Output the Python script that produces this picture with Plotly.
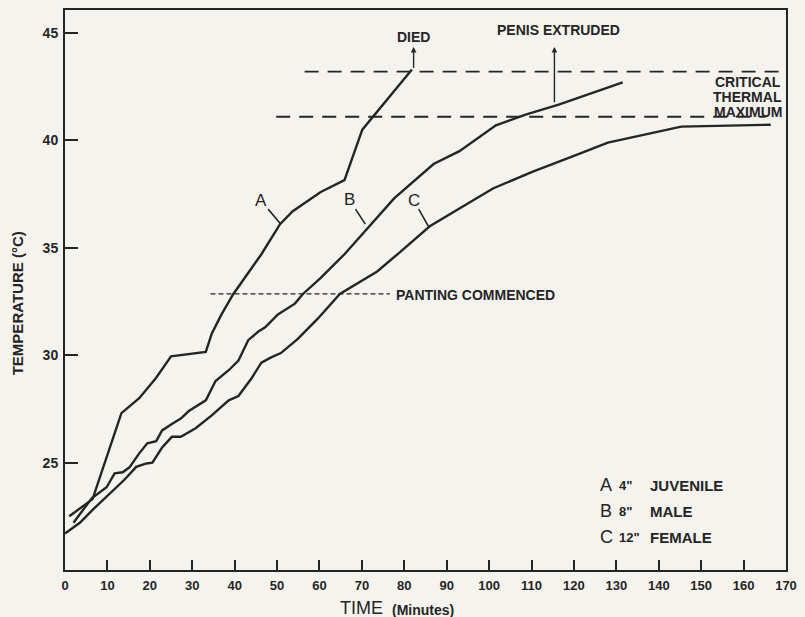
import plotly.graph_objects as go

# ---- data ----
a_time = [1.0, 6.5, 13.3, 17.5, 21.5, 25.0, 33.2, 34.6, 36.9, 39.7, 46.3, 50.7, 53.7, 60.3, 65.9, 70.1, 81.8]
a_temp = [22.5, 23.3, 27.3, 28.0, 28.95, 29.95, 30.15, 31.0, 31.9, 32.85, 34.7, 36.1, 36.7, 37.6, 38.15, 40.5, 43.3]

b_time = [2.0, 6.3, 9.8, 11.7, 13.6, 15.2, 17.5, 19.4, 21.5, 22.9, 25.2, 27.3, 29.2, 33.2, 35.5, 38.6, 40.9,
          43.2, 45.6, 47.2, 50.2, 54.2, 56.1, 60.3, 65.9, 71.3, 77.6, 86.9, 93.0, 101.6, 108.6, 116.4, 131.5]
b_temp = [22.2, 23.34, 23.85, 24.5, 24.55, 24.78, 25.43, 25.9, 26.0, 26.5, 26.8, 27.05, 27.4, 27.9, 28.8, 29.3, 29.75,
          30.7, 31.1, 31.3, 31.9, 32.4, 32.85, 33.6, 34.7, 35.9, 37.3, 38.9, 39.5, 40.7, 41.2, 41.66, 42.7]

c_time = [0, 3.5, 6.5, 11.2, 14.0, 16.8, 19.2, 20.6, 22.9, 25.2, 27.3, 30.8, 34.6, 38.6, 40.9, 43.9, 46.3, 48.6,
          50.9, 54.9, 59.6, 64.8, 73.6, 79.0, 86.0, 100.9, 110.3, 120.3, 128.0, 145.3, 166.4]
c_temp = [21.7, 22.2, 22.8, 23.7, 24.2, 24.8, 24.96, 25.0, 25.7, 26.2, 26.2, 26.6, 27.2, 27.9, 28.1, 28.9, 29.65, 29.9,
          30.1, 30.76, 31.7, 32.85, 33.9, 34.8, 36.0, 37.76, 38.55, 39.3, 39.9, 40.64, 40.73]

# reference levels
died_level_time = [56.5, 169.4]
died_level_temp = [43.2, 43.2]
ctm_time = [49.8, 165.2]
ctm_temp = [41.1, 41.1]
panting_time = [34.3, 76.6]
panting_temp = [32.85, 32.85]

x_ticks = list(range(0, 171, 10))
x_tick_labels = [str(v) for v in x_ticks]
y_ticks = [25, 30, 35, 40, 45]
y_tick_labels = [str(v) for v in y_ticks]

legend_letters = ["A", "B", "C"]
legend_sizes = ['4"', '8"', '12"']
legend_names = ["JUVENILE", "MALE", "FEMALE"]

INK = "#252525"
BG = "#f4f3ee"
FONT = "Liberation Sans, Arial, sans-serif"

fig = go.Figure()

for t, v in [(a_time, a_temp), (b_time, b_temp), (c_time, c_temp)]:
    fig.add_trace(go.Scatter(x=t, y=v, mode="lines", line=dict(color=INK, width=2.4),
                             hoverinfo="skip", showlegend=False))

for t, v in [(died_level_time, died_level_temp), (ctm_time, ctm_temp)]:
    fig.add_trace(go.Scatter(x=t, y=v, mode="lines", line=dict(color=INK, width=1.8, dash="14px,9px"),
                             hoverinfo="skip", showlegend=False))
fig.add_trace(go.Scatter(x=panting_time, y=panting_temp, mode="lines",
                         line=dict(color=INK, width=1.3, dash="5px,3px"),
                         hoverinfo="skip", showlegend=False))

ann = []
bold = lambda s: dict(family=FONT, size=s, color=INK, weight="bold")
reg = lambda s: dict(family=FONT, size=s, color=INK)

# event arrows
ann.append(dict(x=a_time[-1] + 0.4, y=44.35, ax=a_time[-1] + 0.4, ay=a_temp[-1], xref="x", yref="y",
                axref="x", ayref="y", showarrow=True, arrowhead=2, arrowsize=0.8, arrowwidth=1.4,
                arrowcolor=INK, text=""))
ann.append(dict(x=115.4, y=44.35, ax=115.4, ay=41.7, xref="x", yref="y", axref="x", ayref="y",
                showarrow=True, arrowhead=2, arrowsize=0.8, arrowwidth=1.4, arrowcolor=INK, text=""))
ann.append(dict(x=82.2, y=44.8, text="DIED", showarrow=False, font=bold(14)))
ann.append(dict(x=116.4, y=45.14, text="PENIS EXTRUDED", showarrow=False, font=bold(14)))
for txt, yy in zip(["CRITICAL", "THERMAL", "MAXIMUM"], [42.74, 42.02, 41.3]):
    ann.append(dict(x=161.0, y=yy, text=txt, showarrow=False, font=bold(14)))
ann.append(dict(x=77.6, y=32.8, text="PANTING COMMENCED", xanchor="left", showarrow=False, font=bold(14)))

# curve labels
for txt, xx, yy in [("A", 46.3, 37.2), ("B", 67.1, 37.25), ("C", 82.2, 37.2)]:
    ann.append(dict(x=xx, y=yy, text=txt, showarrow=False, font=reg(17)))

# legend text
for let, sz, nm, yy in zip(legend_letters, legend_sizes, legend_names, [23.94, 22.74, 21.53]):
    ann.append(dict(x=125.7, y=yy, text=let, xanchor="left", showarrow=False, font=reg(18)))
    ann.append(dict(x=130.1, y=yy, text=sz, xanchor="left", showarrow=False, font=bold(13)))
    ann.append(dict(x=137.4, y=yy, text=nm, xanchor="left", showarrow=False, font=bold(15)))

# axis titles
ann.append(dict(x=64.3, y=-0.068, xref="x", yref="paper", text="TIME", xanchor="left", yanchor="middle",
                showarrow=False, font=reg(18)))
ann.append(dict(x=76.6, y=-0.072, xref="x", yref="paper", text="(Minutes)", xanchor="left", yanchor="middle",
                showarrow=False, font=bold(14)))
ann.append(dict(x=-0.066, y=0.477, xref="paper", yref="paper", text="TEMPERATURE (°C)", textangle=-90,
                xanchor="center", yanchor="middle", showarrow=False, font=bold(15)))

shapes = []
for x0, y0, x1, y1 in [(47.9, 36.8, 50.9, 36.1), (68.5, 36.8, 70.8, 36.1), (83.4, 36.8, 85.7, 36.0)]:
    shapes.append(dict(type="line", xref="x", yref="y", x0=x0, y0=y0, x1=x1, y1=y1,
                       line=dict(color=INK, width=1.6)))

fig.update_layout(
    width=805, height=617,
    margin=dict(l=65, r=13, t=8, b=47),
    paper_bgcolor=BG, plot_bgcolor=BG,
    annotations=ann, shapes=shapes, showlegend=False,
    xaxis=dict(range=[0, 170], tickvals=x_ticks, ticktext=x_tick_labels, ticks="inside", ticklen=10,
               tickwidth=1.5, tickcolor=INK, showline=True, linewidth=2, linecolor=INK, mirror=True,
               showgrid=False, zeroline=False, tickfont=bold(13), ticklabelstandoff=2),
    yaxis=dict(range=[20, 46.07], tickvals=y_ticks, ticktext=y_tick_labels, ticks="inside", ticklen=13,
               tickwidth=1.5, tickcolor=INK, showline=True, linewidth=2, linecolor=INK, mirror=True,
               showgrid=False, zeroline=False, tickfont=bold(14), ticklabelstandoff=2),
)

fig.write_html("out.html", config={"displayModeBar": False},
               post_script="document.body.style.margin='0';document.body.style.background='%s';" % BG)
